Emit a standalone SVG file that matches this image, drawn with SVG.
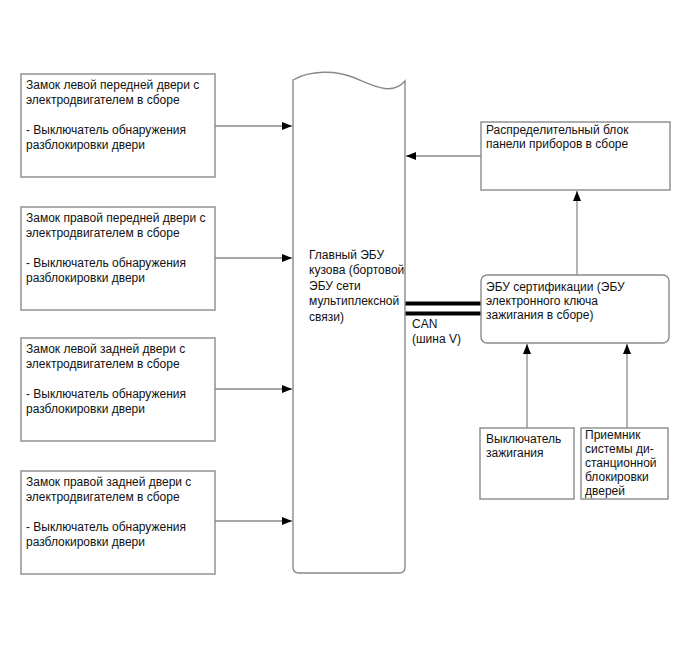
<svg xmlns="http://www.w3.org/2000/svg" width="690" height="659" viewBox="0 0 690 659">
<style>
.box{fill:#fff;stroke:#8a8a8a;stroke-width:1.4}
.ln{fill:none;stroke:#8a8a8a;stroke-width:1.3}
.can{fill:none;stroke:#000;stroke-width:4}
text{font-family:"Liberation Sans",Arial,sans-serif;font-size:12px;fill:#111}
</style>
<defs>
<marker id="ah" viewBox="0 0 10 8" refX="10" refY="4" markerWidth="10" markerHeight="8" markerUnits="userSpaceOnUse" orient="auto">
<path d="M0,0 L10,4 L0,8 Z" fill="#000"/>
</marker>
</defs>
<rect width="690" height="659" fill="#fff"/>
<g id="connectors">
<line class="ln" x1="215" y1="126" x2="292" y2="126" marker-end="url(#ah)"/>
<line class="ln" x1="215" y1="258" x2="292" y2="258" marker-end="url(#ah)"/>
<line class="ln" x1="215" y1="389" x2="292" y2="389" marker-end="url(#ah)"/>
<line class="ln" x1="215" y1="521" x2="292" y2="521" marker-end="url(#ah)"/>
<line class="ln" x1="481" y1="156" x2="406" y2="156" marker-end="url(#ah)"/>
<line class="ln" x1="577" y1="275" x2="577" y2="191" marker-end="url(#ah)"/>
<line class="ln" x1="527" y1="428" x2="527" y2="344" marker-end="url(#ah)"/>
<line class="ln" x1="627" y1="428" x2="627" y2="344" marker-end="url(#ah)"/>
<line class="can" x1="405" y1="303.5" x2="481" y2="303.5"/>
<line class="can" x1="405" y1="313.5" x2="481" y2="313.5"/>
<text x="412" y="328">CAN</text>
<text x="412" y="343">(шина V)</text>
</g>
<g id="lf">
<rect class="box" x="21" y="74" width="194" height="103"/>
<text x="26" y="89">Замок левой передней двери с</text>
<text x="26" y="104">электродвигателем в сборе</text>
<text x="26" y="134">- Выключатель обнаружения</text>
<text x="26" y="149">разблокировки двери</text>
</g>
<g id="rf">
<rect class="box" x="21" y="207" width="194" height="103"/>
<text x="26" y="222">Замок правой передней двери с</text>
<text x="26" y="237">электродвигателем в сборе</text>
<text x="26" y="267">- Выключатель обнаружения</text>
<text x="26" y="282">разблокировки двери</text>
</g>
<g id="lr">
<rect class="box" x="21" y="338" width="194" height="103"/>
<text x="26" y="353">Замок левой задней двери с</text>
<text x="26" y="368">электродвигателем в сборе</text>
<text x="26" y="398">- Выключатель обнаружения</text>
<text x="26" y="413">разблокировки двери</text>
</g>
<g id="rr">
<rect class="box" x="21" y="471" width="194" height="103"/>
<text x="26" y="486">Замок правой задней двери с</text>
<text x="26" y="501">электродвигателем в сборе</text>
<text x="26" y="531">- Выключатель обнаружения</text>
<text x="26" y="546">разблокировки двери</text>
</g>
<g id="main">
<path class="box" d="M293,80 C310,70 336,70 355,78 S392,96 405,81 L405,567 Q405,573 399,573 L299,573 Q293,573 293,567 Z"/>
<text x="309" y="259">Главный ЭБУ</text>
<text x="309" y="274">кузова (бортовой</text>
<text x="309" y="290">ЭБУ сети</text>
<text x="309" y="305">мультиплексной</text>
<text x="309" y="321">связи)</text>
</g>
<g id="panel">
<rect class="box" x="481" y="122" width="189" height="68"/>
<text x="486" y="134">Распределительный блок</text>
<text x="486" y="148">панели приборов в сборе</text>
</g>
<g id="cert">
<rect class="box" x="481" y="275" width="188" height="68" rx="6"/>
<text x="486" y="291">ЭБУ сертификации (ЭБУ</text>
<text x="486" y="305">электронного ключа</text>
<text x="486" y="319">зажигания в сборе)</text>
</g>
<g id="ign">
<rect class="box" x="480" y="428" width="94" height="71"/>
<text x="486" y="443">Выключатель</text>
<text x="486" y="457">зажигания</text>
</g>
<g id="recv">
<rect class="box" x="581" y="428" width="87" height="71"/>
<text x="585" y="439">Приемник</text>
<text x="585" y="453">системы ди-</text>
<text x="585" y="467">станционной</text>
<text x="585" y="481">блокировки</text>
<text x="585" y="495">дверей</text>
</g>
</svg>
